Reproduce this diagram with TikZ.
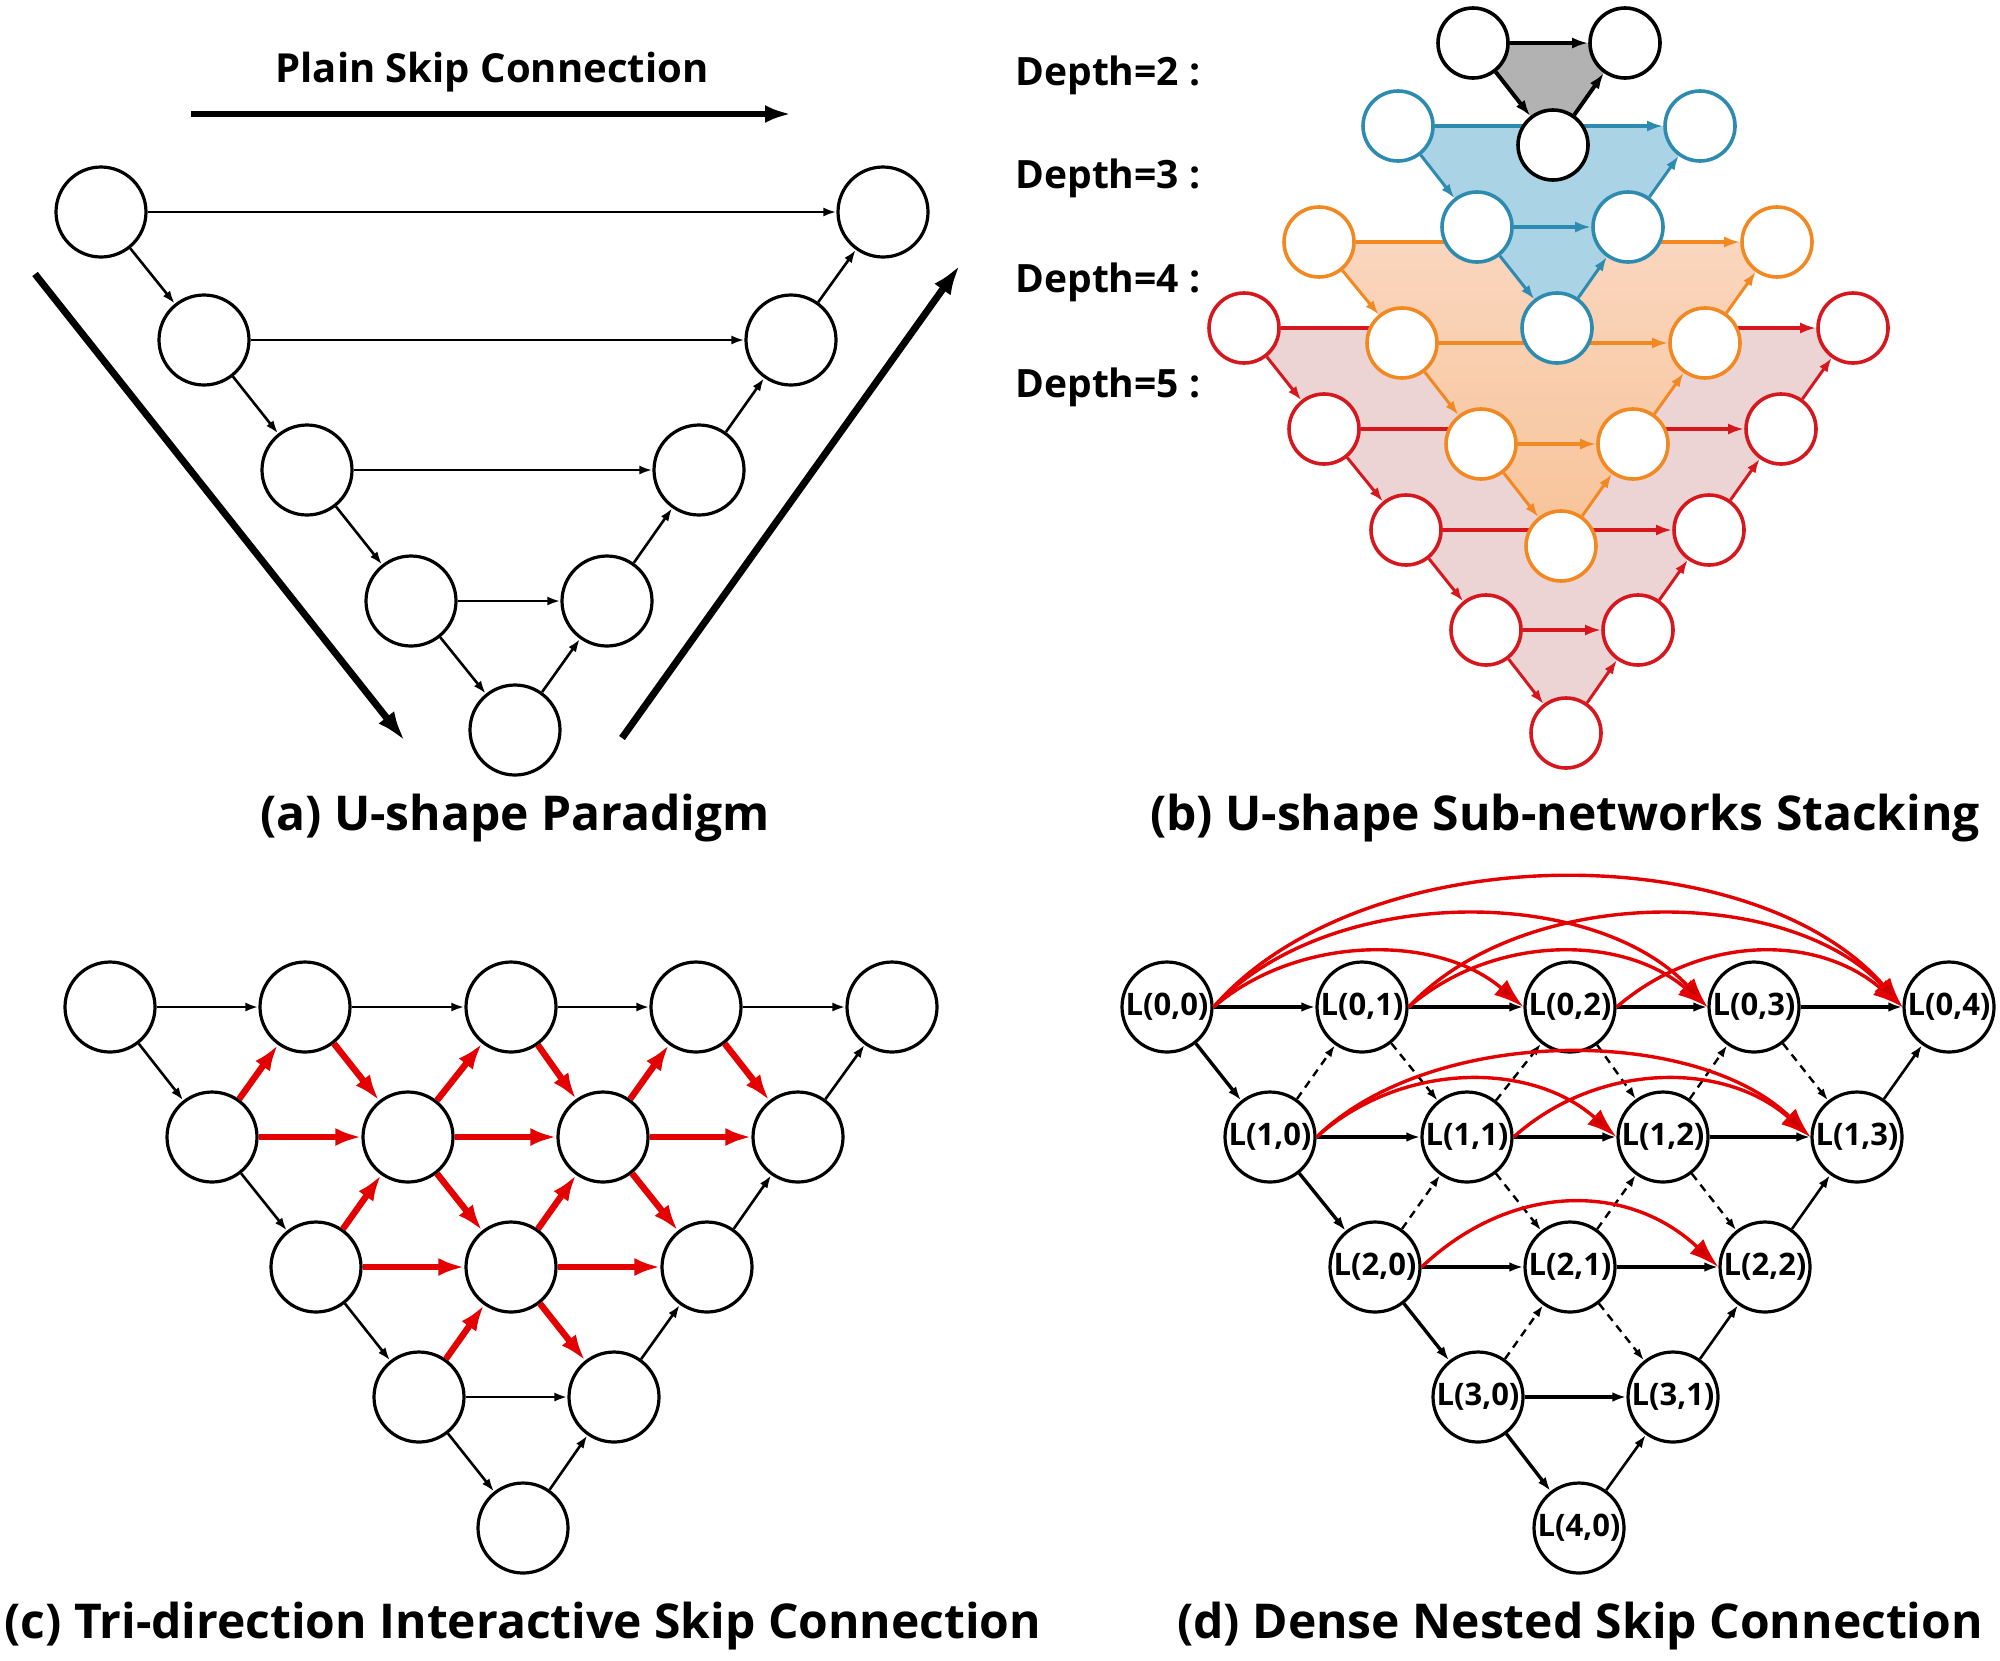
\documentclass[tikz,border=0pt]{standalone}
\usepackage{fontspec}
\setmainfont{Open Sans}
\usetikzlibrary{arrows.meta,calc}
\pgfdeclarelayer{l0}
\pgfdeclarelayer{l1}\pgfdeclarelayer{l2}\pgfdeclarelayer{l3}\pgfdeclarelayer{l4}
\pgfdeclarelayer{l5}\pgfdeclarelayer{l6}\pgfdeclarelayer{l7}
\pgfsetlayers{l0,l1,l2,l3,l4,l5,l6,l7,main}
\definecolor{cblue}{RGB}{46,139,176}
\definecolor{cblueF}{RGB}{170,211,230}
\definecolor{corange}{RGB}{242,136,34}
\definecolor{corangeT}{RGB}{250,214,190}
\definecolor{corangeB}{RGB}{247,195,152}
\definecolor{cred}{RGB}{214,24,30}
\definecolor{credF}{RGB}{237,212,212}
\definecolor{cgrayF}{RGB}{178,178,178}
\definecolor{cred2}{RGB}{228,0,0}
\definecolor{cred3}{RGB}{200,0,0}
\tikzset{
  nd/.style={circle,draw=black,line width=1.6pt,fill=white,minimum size=45pt,inner sep=0pt},
  ndb/.style={circle,line width=1.8pt,fill=white,minimum size=35pt,inner sep=0pt},
  tarr/.style={line width=1.3pt,-{Latex[length=6.5pt,width=4.5pt]}},
  bigarr/.style={line width=3.5pt,-{Latex[length=15pt,width=10pt]}},
  titarr/.style={line width=3pt,-{Latex[length=13pt,width=9pt]}},
  redarr/.style={draw=cred2,line width=3.2pt,-{Latex[length=13pt,width=9pt]}},
  harr/.style={line width=1.7pt,-{Latex[length=7pt,width=4.8pt]}},
  darr/.style={line width=1.2pt,dash pattern=on 4pt off 3pt,-{Latex[length=6pt,width=4pt]}},
  carr/.style={draw=cred2,line width=1.7pt,-{Latex[length=15pt,width=10pt,fill=cred3]}},
  barr/.style={line width=1.5pt,-{Latex[length=7pt,width=5pt]}},
  bharr/.style={line width=2pt,-{Latex[length=8pt,width=5.5pt]}},
  captxt/.style={font=\fontsize{24}{28}\selectfont\bfseries,inner sep=0pt,anchor=base},
  deptxt/.style={font=\fontsize{19.5}{22}\selectfont\bfseries,inner sep=0pt,anchor=base west},
  lbl/.style={font=\fontsize{15.5}{17}\selectfont\bfseries},
}
\begin{document}
\begin{tikzpicture}[x=0.5pt,y=-0.5pt]
\begin{pgfonlayer}{l0}
\path[use as bounding box,fill=white] (0,0) rectangle (2000,1660);
\end{pgfonlayer}

%% ---------------- (a) ----------------
\node[font=\fontsize{20}{24}\selectfont\bfseries,inner sep=0pt,anchor=base] (tt) at (492,82) {Plain Skip Connection};
\coordinate (ps) at (191,114);
\coordinate (pe) at (791,114);
\draw[titarr] (ps) -- (pe);
\foreach \n/\x/\y in {a0/101/212,a1/204/340,a2/307/470,a3/411/601,a4/515/730,a5/607/601,a6/699/470,a7/791/340,a8/883/212}
  \node[nd] (\n) at (\x,\y) {};
\foreach \s/\t in {a0/a1,a1/a2,a2/a3,a3/a4,a4/a5,a5/a6,a6/a7,a7/a8,a0/a8,a1/a7,a2/a6,a3/a5}
  \draw[tarr] (\s) -- (\t);
\coordinate (ls) at (35,274);
\coordinate (le) at (405,741);
\coordinate (rs) at (622,738);
\coordinate (re) at (960,265);
\draw[bigarr] (ls) -- (le);
\draw[bigarr] (rs) -- (re);
\node[captxt] (capa) at (515,830) {(a) U-shape Paradigm};

%% ---------------- (b) ----------------
\node[deptxt] (dp2) at (1015,85) {Depth=2 :};
\node[deptxt] (dp3) at (1015,188) {Depth=3 :};
\node[deptxt] (dp4) at (1015,292) {Depth=4 :};
\node[deptxt] (dp5) at (1015,397) {Depth=5 :};

% red (depth 5)
\begin{pgfonlayer}{l2}
\foreach \n/\x/\y in {r1/1244/328,r2/1853/328,r3/1324/429,r4/1781/429,r5/1406/530,r6/1709/530,r7/1486/630,r8/1638/630,r9/1566/733}
  \node[ndb,draw=cred] (\n) at (\x,\y) {};
\end{pgfonlayer}
\begin{pgfonlayer}{l1}
\fill[credF] (r1.center) -- (r2.center) -- (r4.center) -- (r6.center) -- (r8.center) -- (r9.center) -- (r7.center) -- (r5.center) -- (r3.center) -- cycle;
\foreach \s/\t in {r1/r3,r3/r5,r5/r7,r7/r9,r9/r8,r8/r6,r6/r4,r4/r2}
  \draw[barr,draw=cred] (\s) -- (\t);
\foreach \s/\t in {r1/r2,r3/r4,r5/r6,r7/r8}
  \draw[bharr,draw=cred] (\s) -- (\t);
\end{pgfonlayer}

% orange (depth 4)
\begin{pgfonlayer}{l4}
\foreach \n/\x/\y in {o1/1319/242,o2/1777/242,o3/1402/343,o4/1705/343,o5/1481/444,o6/1633/444,o7/1561/546}
  \node[ndb,draw=corange] (\n) at (\x,\y) {};
\end{pgfonlayer}
\begin{pgfonlayer}{l3}
\shade[top color=corangeT,bottom color=corangeB] (o1.center) -- (o2.center) -- (o4.center) -- (o6.center) -- (o7.center) -- (o5.center) -- (o3.center) -- cycle;
\foreach \s/\t in {o1/o3,o3/o5,o5/o7,o7/o6,o6/o4,o4/o2}
  \draw[barr,draw=corange] (\s) -- (\t);
\foreach \s/\t in {o1/o2,o3/o4,o5/o6}
  \draw[bharr,draw=corange] (\s) -- (\t);
\end{pgfonlayer}

% blue (depth 3)
\begin{pgfonlayer}{l6}
\foreach \n/\x/\y in {b1/1398/126,b2/1700/126,b3/1477/227,b4/1628/227,b5/1557/328}
  \node[ndb,draw=cblue] (\n) at (\x,\y) {};
\end{pgfonlayer}
\begin{pgfonlayer}{l5}
\fill[cblueF] (b1.center) -- (b2.center) -- (b4.center) -- (b5.center) -- (b3.center) -- cycle;
\foreach \s/\t in {b1/b3,b3/b5,b5/b4,b4/b2}
  \draw[barr,draw=cblue] (\s) -- (\t);
\foreach \s/\t in {b1/b2,b3/b4}
  \draw[bharr,draw=cblue] (\s) -- (\t);
\end{pgfonlayer}

% black (depth 2)
\foreach \n/\x/\y in {k1/1473/43,k2/1625/43,k3/1553/145}
  \node[ndb,draw=black] (\n) at (\x,\y) {};
\begin{pgfonlayer}{l7}
\fill[cgrayF] (k1.center) -- (k2.center) -- (k3.center) -- cycle;
\foreach \s/\t in {k1/k2,k1/k3,k3/k2}
  \draw[bharr] (\s) -- (\t);
\end{pgfonlayer}
\node[captxt] (capb) at (1565,830) {(b) U-shape Sub-networks Stacking};

%% ---------------- (c) ----------------
\foreach \n/\x/\y in {c00/110/1007,c01/305/1007,c02/511/1007,c03/696/1007,c04/892/1007,
                      c10/212/1137,c11/408/1137,c12/603/1137,c13/798/1137,
                      c20/316/1267,c21/511/1267,c22/707/1267,
                      c30/419/1397,c31/614/1397,
                      c40/523/1528}
  \node[nd] (\n) at (\x,\y) {};
\foreach \s/\t in {c00/c01,c01/c02,c02/c03,c03/c04,c00/c10,c10/c20,c20/c30,c30/c40,c40/c31,c31/c22,c22/c13,c13/c04,c30/c31}
  \draw[tarr] (\s) -- (\t);
\foreach \s/\t in {c10/c01,c01/c11,c11/c02,c02/c12,c12/c03,c03/c13,
                   c10/c11,c11/c12,c12/c13,
                   c20/c11,c11/c21,c21/c12,c12/c22,
                   c20/c21,c21/c22,
                   c30/c21,c21/c31}
  \draw[redarr] (\s) -- (\t);
\node[captxt] (capc) at (523,1638) {(c) Tri-direction Interactive Skip Connection};

%% ---------------- (d) ----------------
\foreach \n/\x/\y/\t in {d00/1167/1007/{L(0,0)},d01/1362/1007/{L(0,1)},d02/1570/1007/{L(0,2)},d03/1754/1007/{L(0,3)},d04/1949/1007/{L(0,4)},
                         d10/1270/1137/{L(1,0)},d11/1467/1137/{L(1,1)},d12/1663/1137/{L(1,2)},d13/1857/1137/{L(1,3)},
                         d20/1375/1267/{L(2,0)},d21/1570/1267/{L(2,1)},d22/1765/1267/{L(2,2)},
                         d30/1478/1397/{L(3,0)},d31/1673/1397/{L(3,1)},
                         d40/1579/1528/{L(4,0)}}
  \node[nd,lbl] (\n) at (\x,\y) {\t};
\foreach \s/\t in {d00/d01,d01/d02,d02/d03,d03/d04,d10/d11,d11/d12,d12/d13,d20/d21,d21/d22,d30/d31,
                   d00/d10,d10/d20,d20/d30,d30/d40}
  \draw[harr] (\s) -- (\t);
\foreach \s/\t in {d40/d31,d31/d22,d22/d13,d13/d04}
  \draw[tarr] (\s) -- (\t);
\foreach \s/\t in {d10/d01,d11/d02,d12/d03,d20/d11,d21/d12,d30/d21,
                   d01/d11,d02/d12,d03/d13,d11/d21,d12/d22,d21/d31}
  \draw[darr] (\s) -- (\t);
\foreach \s/\t/\dx/\h in {d00/d02/85/73,d01/d03/85/73,d02/d04/85/73,
                          d00/d03/115/123,d01/d04/115/123,d00/d04/150/172,
                          d10/d12/85/76,d11/d13/85/76,d10/d13/115/112,
                          d20/d22/90/85}
  \draw[carr] (\s.east) .. controls ($(\s.east)+(\dx,-\h)$) and ($(\t.west)+(-\dx,-\h)$) .. (\t.west);
\node[captxt] (capd) at (1580,1638) {(d) Dense Nested Skip Connection};
\end{tikzpicture}
\end{document}
